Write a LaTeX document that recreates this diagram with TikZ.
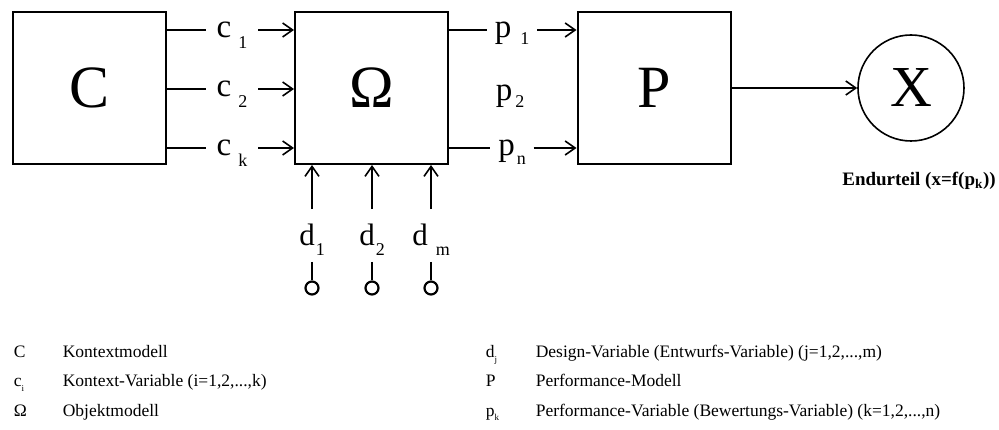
\documentclass[tikz,border=0pt]{standalone}
\usepackage{fontspec}
\setmainfont{Liberation Serif}
\usepackage{tikz}
\usetikzlibrary{arrows.meta,positioning,calc}

% letter with a lowered subscript set apart from it
\newcommand{\varsub}[4]{#1\hspace{#2}\smash{\raisebox{#3}{\fontsize{18}{18}\selectfont #4}}}
\newcommand{\legsub}[2]{#1\smash{\raisebox{-5pt}{\fontsize{9}{9}\selectfont #2}}}

\begin{document}
\begin{tikzpicture}[x=1pt, y=-1pt, >={Straight Barb[length=10pt, width=14pt]}, line width=1.6pt,
    block/.style={draw, line width=2pt, minimum width=153pt, minimum height=152pt,
                  inner sep=0pt, font=\fontsize{60}{60}\selectfont},
    sig/.style={font=\fontsize{33}{33}\selectfont, text height=15pt, text depth=0pt,
                inner ysep=0pt, inner xsep=10pt},
    dsig/.style={font=\fontsize{31}{31}\selectfont, text height=21pt, text depth=0pt,
                 inner ysep=15pt, inner xsep=0pt, anchor=base},
    term/.style={draw, circle, line width=2.2pt, minimum size=13pt, inner sep=0pt},
    legend/.style={anchor=base west, inner sep=0pt, font=\fontsize{17.5}{20}\selectfont}]

  \useasboundingbox (0,0) rectangle (999,430);

  % models
  \node[block] (C) at (89.5,88) {C};
  \node[block] (Om) at (371.5,88) {Ω};
  \node[block] (P) at (654,88) {P};
  \node[draw, circle, minimum size=106pt, inner sep=0pt,
        font=\fontsize{58}{58}\selectfont] (X) at (911,88) {X};
  \node[font=\fontsize{19}{22}\selectfont\bfseries] (end) at (919,181)
    {Endurteil (x=f(p\textsubscript{k}))};

  % context variables
  \node[sig] (c1) at (232,30) {\varsub{c}{7pt}{-11pt}{1}};
  \node[sig] (c2) at (232,89) {\varsub{c}{7pt}{-11pt}{2}};
  \node[sig] (ck) at (232,148) {\varsub{c}{7pt}{-11pt}{k}};
  \draw (C.east |- c1) -- (c1.west);
  \draw[->] (c1.east) -- (Om.west |- c1);
  \draw (C.east |- c2) -- (c2.west);
  \draw[->] (c2.east) -- (Om.west |- c2);
  \draw (C.east |- ck) -- (ck.west);
  \draw[->] (ck.east) -- (Om.west |- ck);

  % performance variables
  \node[sig, inner xsep=7pt] (p1) at (512,30) {\varsub{p}{9pt}{-7pt}{1}};
  \node[sig] (p2) at (510,93) {\varsub{p}{3pt}{-7pt}{2}};
  \node[sig, inner xsep=7pt] (pn) at (512,148) {\varsub{p}{2pt}{-9pt}{n}};
  \draw (Om.east |- p1) -- (p1.west);
  \draw[->] (p1.east) -- (P.west |- p1);
  \draw (Om.east |- pn) -- (pn.west);
  \draw[->] (pn.east) -- (P.west |- pn);

  \draw[->] (P.east) -- (X.west);

  % design variables
  \node[dsig] (d1) at (312,246) {\varsub{d}{1pt}{-10pt}{1}};
  \node[dsig] (d2) at (372,246) {\varsub{d}{1pt}{-10pt}{2}};
  \node[dsig] (dm) at (431,246) {\varsub{d}{8pt}{-10pt}{m}};
  \node[term] (t1) at (312,288) {};
  \node[term] (t2) at (372,288) {};
  \node[term] (tm) at (431,288) {};
  \draw[->] (d1.north) -- (Om.south -| d1.north);
  \draw[->] (d2.north) -- (Om.south -| d2.north);
  \draw[->] (dm.north) -- (Om.south -| dm.north);
  \draw[line width=2.4pt] (d1.south) -- (t1.north);
  \draw[line width=2.4pt] (d2.south) -- (t2.north);
  \draw[line width=2.4pt] (dm.south) -- (tm.north);

  % legend
  \node[legend] (lC) at (13,358) {C};
  \node[legend] (lCtxt) at (62,358) {Kontextmodell};
  \node[legend] (lc) at (13,387) {\legsub{c}{i}};
  \node[legend] (lctxt) at (62,387) {Kontext-Variable (i=1,2,...,k)};
  \node[legend] (lOm) at (13,416) {Ω};
  \node[legend] (lOmtxt) at (62,416) {Objektmodell};
  \node[legend] (ld) at (485,358) {\legsub{d}{j}};
  \node[legend] (ldtxt) at (535,358) {Design-Variable (Entwurfs-Variable) (j=1,2,...,m)};
  \node[legend] (lP) at (485,387) {P};
  \node[legend] (lPtxt) at (535,387) {Performance-Modell};
  \node[legend] (lp) at (485,416) {\legsub{p}{k}};
  \node[legend] (lptxt) at (535,416) {Performance-Variable (Bewertungs-Variable) (k=1,2,...,n)};
\end{tikzpicture}
\end{document}
